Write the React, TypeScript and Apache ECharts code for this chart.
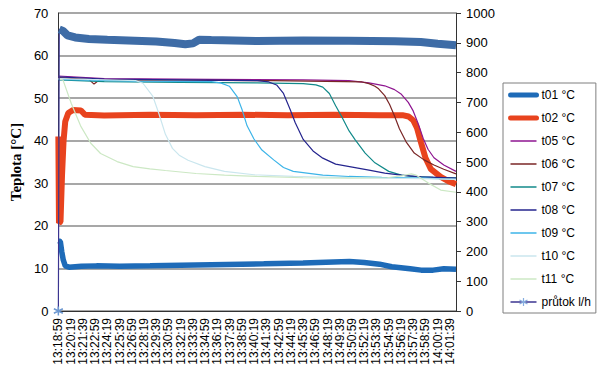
import React, { useEffect, useRef } from 'react';
import * as echarts from 'echarts';

const FONT = "'Liberation Sans', Arial, sans-serif";

// x values are seconds after 13:18:59
const tickLabels = [
  '13:18:59', '13:20:19', '13:21:39', '13:22:59', '13:24:19', '13:25:39', '13:26:59', '13:28:19',
  '13:29:39', '13:30:59', '13:32:19', '13:33:39', '13:34:59', '13:36:19', '13:37:39', '13:38:59',
  '13:40:19', '13:41:39', '13:42:59', '13:44:19', '13:45:39', '13:46:59', '13:48:19', '13:49:39',
  '13:50:59', '13:52:19', '13:53:39', '13:54:59', '13:56:19', '13:57:39', '13:58:59', '14:00:19',
  '14:01:39',
];

const t01 = [[0, 16.5], [13, 16.3], [22, 14], [32, 12], [45, 10.6], [70, 10.3], [150, 10.5], [250, 10.6], [400, 10.5], [600, 10.6], [900, 10.8], [1200, 11.0], [1343, 11.1], [1600, 11.3], [1800, 11.5], [1903, 11.6], [2000, 11.4], [2100, 11.0], [2180, 10.4], [2300, 9.9], [2372, 9.6], [2450, 9.6], [2520, 9.9], [2600, 9.8]];
const t02 = [[0, 41], [4, 20.7], [14, 21], [24, 32], [34, 40], [45, 44.5], [65, 46.5], [96, 47.2], [148, 47.1], [174, 46.1], [300, 45.9], [600, 46.1], [900, 46.0], [1200, 46.1], [1500, 46.0], [1800, 46.1], [2100, 46.0], [2250, 46.0], [2290, 45.7], [2320, 44.8], [2345, 43.0], [2372, 39.5], [2400, 36.0], [2436, 33.3], [2500, 31.5], [2550, 30.5], [2600, 29.8]];
const t05 = [[0, 55.2], [300, 54.6], [1000, 54.4], [1600, 54.3], [1900, 54.1], [2031, 53.6], [2134, 52.9], [2198, 52.0], [2243, 50.9], [2288, 49.0], [2320, 47.0], [2353, 44.0], [2385, 40.6], [2417, 38.0], [2456, 36.0], [2520, 34.3], [2600, 32.8]];
const t06 = [[0, 54.8], [200, 54.4], [233, 53.3], [270, 54.3], [800, 54.2], [1400, 54.1], [1986, 53.8], [2031, 53.4], [2070, 52.8], [2094, 52.2], [2134, 50.6], [2166, 48.5], [2198, 45.8], [2230, 42.8], [2276, 39.6], [2327, 37.1], [2391, 35.5], [2456, 34.3], [2520, 33.3], [2600, 32.2]];
const t07 = [[0, 54.3], [300, 53.9], [800, 53.7], [1300, 53.6], [1601, 53.4], [1684, 53.1], [1729, 52.6], [1772, 51.1], [1813, 48.2], [1858, 45.3], [1901, 42.3], [1941, 40.2], [2006, 37.1], [2070, 34.8], [2160, 32.8], [2243, 31.9], [2308, 31.6], [2450, 31.4], [2600, 31.3]];
const t08 = [[0, 55.0], [300, 54.5], [800, 54.3], [1300, 54.1], [1376, 53.8], [1427, 53.1], [1472, 51.1], [1515, 47.4], [1549, 44.2], [1601, 40.3], [1665, 37.6], [1729, 35.9], [1813, 34.5], [1922, 33.8], [2031, 33.1], [2134, 32.4], [2243, 31.9], [2372, 31.5], [2480, 31.4], [2600, 31.2]];
const t09 = [[0, 54.4], [500, 54.0], [1000, 53.9], [1060, 53.6], [1118, 52.8], [1170, 50.3], [1202, 47.2], [1234, 43.5], [1279, 40.4], [1331, 37.8], [1408, 35.5], [1472, 33.7], [1536, 32.8], [1729, 31.9], [1900, 31.6], [2115, 31.4], [2400, 31.2], [2600, 30.9]];
const t10 = [[0, 54.6], [400, 54.2], [508, 54.1], [553, 53.5], [617, 50.5], [656, 46.5], [700, 41.5], [746, 38.2], [790, 36.6], [848, 35.4], [958, 33.9], [1086, 32.8], [1279, 32.0], [1536, 31.6], [1922, 31.3], [2372, 31.1], [2600, 30.9]];
const t11 = [[0, 54.5], [30, 54.3], [84, 48.8], [148, 43.3], [212, 39.4], [276, 37.0], [384, 35.1], [489, 33.9], [598, 33.4], [700, 33.0], [900, 32.3], [1086, 31.9], [1300, 31.6], [1600, 31.3], [1900, 31.2], [2150, 31.3], [2250, 31.8], [2308, 32.2], [2340, 31.9], [2417, 30.1], [2500, 28.4], [2600, 27.9]];
const flow = [[0, 0], [6, 945], [30, 940], [60, 925], [110, 918], [200, 913], [320, 910], [500, 907], [640, 904], [760, 899], [830, 895], [880, 898], [920, 910], [1000, 909], [1300, 906], [1600, 908], [1900, 907], [2200, 905], [2370, 903], [2480, 897], [2600, 892]];

const ASTERISK = 'path://M5,0L5,10M0.67,2.5L9.33,7.5M0.67,7.5L9.33,2.5';

const thin = (name: string, data: number[][], color: string) => ({
  name,
  type: 'line',
  data,
  symbol: 'none',
  showSymbol: false,
  lineStyle: { color, width: 1.2 },
  itemStyle: { color },
});

export default function App() {
  const ref = useRef<HTMLDivElement>(null);
  useEffect(() => {
    const chart = echarts.init(ref.current!, null, { renderer: 'svg' });
    const option: any = {
      animation: false,
      backgroundColor: '#ffffff',
      grid: { left: 51, right: 144, top: 13, bottom: 67, containLabel: false },
      xAxis: {
        type: 'value',
        min: 0,
        max: 2600,
        interval: 80,
        axisLine: { show: true, onZero: false, lineStyle: { color: '#333', width: 1 } },
        axisTick: { show: false },
        splitLine: { show: false },
        axisLabel: {
          rotate: 90,
          margin: 7,
          fontFamily: FONT,
          fontSize: 12,
          color: '#000',
          showMaxLabel: false,
          formatter: (v: number) => {
            const i = Math.round(v / 80);
            return Math.abs(v - i * 80) < 1e-6 && tickLabels[i] ? tickLabels[i] : '';
          },
        },
      },
      yAxis: [
        {
          type: 'value',
          min: 0,
          max: 70,
          interval: 10,
          name: 'Teplota [°C]',
          nameLocation: 'middle',
          nameGap: 34,
          nameTextStyle: { fontFamily: "'Liberation Serif', 'Times New Roman', serif", fontWeight: 'bold', fontSize: 15, color: '#000' },
          axisLine: { show: true, lineStyle: { color: '#333' } },
          axisTick: { show: false },
          axisLabel: { fontFamily: FONT, fontSize: 13, color: '#000', margin: 10 },
          splitLine: { show: true, lineStyle: { color: '#8a8a8a', width: 1.5 } },
        },
        {
          type: 'value',
          min: 0,
          max: 1000,
          interval: 100,
          position: 'right',
          axisLine: { show: true, lineStyle: { color: '#333' } },
          axisTick: { show: true, length: 5, lineStyle: { color: '#333' } },
          axisLabel: { fontFamily: FONT, fontSize: 13, color: '#000', margin: 10, formatter: (v: number) => String(v) },
          splitLine: { show: false },
        },
      ],
      legend: {
        orient: 'vertical',
        left: 503,
        top: 83,
        itemWidth: 26,
        itemHeight: 10,
        itemGap: 11,
        padding: [6, 5, 5, 5],
        borderColor: '#7f7f7f',
        borderWidth: 1,
        selectedMode: false,
        itemStyle: { opacity: 0 },
        textStyle: { fontFamily: FONT, fontSize: 12, color: '#000' },
        data: [
          { name: 't01 °C', lineStyle: { width: 5, cap: 'round' } },
          { name: 't02 °C', lineStyle: { width: 5, cap: 'round' } },
          { name: 't05 °C', lineStyle: { width: 1.5 } },
          { name: 't06 °C', lineStyle: { width: 1.5 } },
          { name: 't07 °C', lineStyle: { width: 1.5 } },
          { name: 't08 °C', lineStyle: { width: 1.5 } },
          { name: 't09 °C', lineStyle: { width: 1.5 } },
          { name: 't10 °C', lineStyle: { width: 1.5 } },
          { name: 't11 °C', lineStyle: { width: 1.5 } },
          {
            name: 'průtok l/h',
            lineStyle: { width: 1.5 },
            itemStyle: { opacity: 1, color: 'transparent', borderColor: '#86aee0', borderWidth: 1.2 },
          },
        ],
      },
      series: [
        { ...thin('t01 °C', t01, '#1e6bb8'), lineStyle: { color: '#1e6bb8', width: 5.5 } },
        { ...thin('t02 °C', t02, '#e8431e'), lineStyle: { color: '#e8431e', width: 6 } },
        thin('t05 °C', t05, '#8e1590'),
        thin('t06 °C', t06, '#7a2626'),
        thin('t07 °C', t07, '#128a8a'),
        thin('t08 °C', t08, '#25258e'),
        thin('t09 °C', t09, '#3cb4e8'),
        thin('t10 °C', t10, '#cae6ee'),
        thin('t11 °C', t11, '#cce8c4'),
        {
          name: 'průtok l/h',
          type: 'line',
          yAxisIndex: 1,
          data: flow,
          symbol: ASTERISK,
          showSymbol: false,
          lineStyle: { color: '#3b3590', width: 1.2 },
          itemStyle: { color: '#86aee0' },
          markPoint: {
            symbol: ASTERISK,
            symbolSize: 9,
            silent: true,
            label: { show: false },
            itemStyle: { color: 'transparent', borderColor: '#6d98d0', borderWidth: 1.5 },
            data: [{ coord: flow[0] }],
          },
        },
        {
          name: 'průtok band',
          type: 'line',
          yAxisIndex: 1,
          data: flow.slice(1),
          symbol: 'none',
          showSymbol: false,
          lineStyle: { color: '#3e6ca6', width: 8 },
        },
      ],
    };
    chart.setOption(option);
    return () => chart.dispose();
  }, []);
  return (
    <div
      ref={ref}
      style={{ position: 'fixed', left: 0, top: 0, width: 600, height: 378, background: '#fff' }}
    />
  );
}
